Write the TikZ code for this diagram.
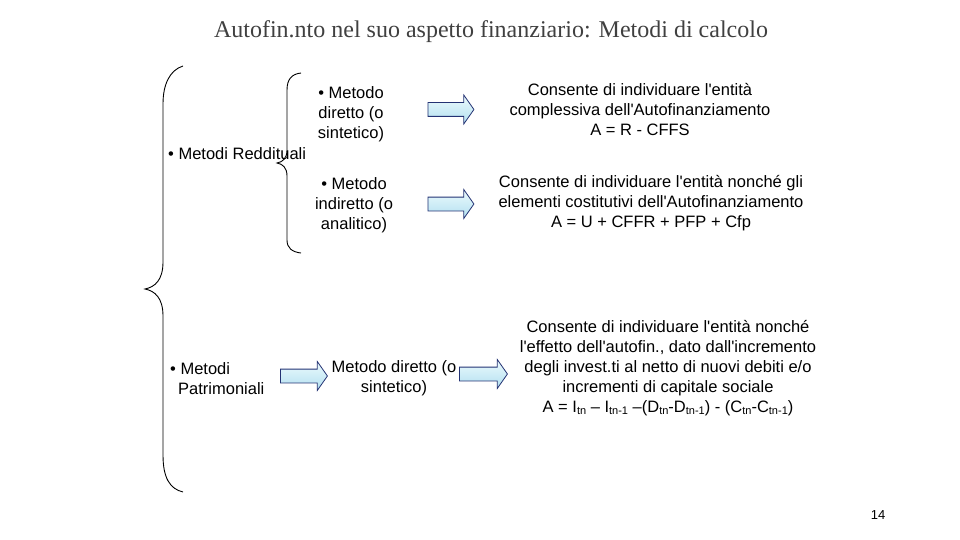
\documentclass[tikz,border=0pt]{standalone}
\usepackage{fontspec}
\setmainfont{Liberation Serif}
\newfontfamily\bodyfont{Liberation Sans}[Ligatures=TeXOff]
\usetikzlibrary{shapes.arrows}
\definecolor{arrowline}{RGB}{35,50,115}
\definecolor{arrowtop}{RGB}{236,250,253}
\definecolor{arrowbot}{RGB}{178,224,240}
\definecolor{titlegray}{RGB}{64,64,64}
\newcommand{\lowsub}[1]{\raisebox{-2.5pt}{\fontsize{11}{11}\selectfont #1}}

\begin{document}
\begin{tikzpicture}[x=1pt, y=-1pt,
   txt/.style={font=\bodyfont\fontsize{16.5}{20}\selectfont, align=center, inner sep=0pt},
   blockarrow/.style={single arrow, draw=arrowline, line width=0.8pt,
                      top color=arrowtop, bottom color=arrowbot,
                      minimum height=46pt, inner xsep=0pt, inner ysep=6.5pt,
                      single arrow head extend=7.5pt, single arrow tip angle=110},
   brace/.style={draw, line width=0.9pt}]
  \useasboundingbox (0,0) rectangle (960,540);
  \node[font=\fontsize{24}{28}\selectfont, text=titlegray] (title) at (491,32)
       {Autofin.nto nel suo aspetto finanziario: Metodi di calcolo};

  % outer brace
  \draw[brace] (183,66) .. controls (170,70) and (163,84) .. (163,104)
               -- (163,262) .. controls (163,280) and (155,287) .. (145,289)
               .. controls (155,291) and (163,298) .. (163,316)
               -- (163,455) .. controls (163,478) and (170,489) .. (183,492);
  % inner brace
  \draw[brace] (301,73) .. controls (292,74) and (287,79) .. (287,90)
               -- (287,150) .. controls (287,158) and (283,162) .. (277,163)
               .. controls (283,164) and (287,168) .. (287,176)
               -- (287,240) .. controls (287,248) and (292,252) .. (301,253);

  \node[txt, anchor=west] (redd) at (168,154) {• Metodi Reddituali};
  \node[txt] (dir) at (351,114) {• Metodo\\diretto (o\\sintetico)};
  \node[txt] (indir) at (354,205) {• Metodo\\indiretto (o\\analitico)};
  \node[txt, align=left, anchor=west] (patr) at (170,379)
       {• Metodi\\\hspace*{8pt}Patrimoniali};
  \node[txt] (patrdir) at (394,378) {Metodo diretto (o\\sintetico)};

  \node[blockarrow] (arrA) at (448.5,109.5) {};
  \node[blockarrow] (arrB) at (448.5,204) {};
  \node[blockarrow, minimum height=47pt] (arrC) at (301.5,376) {};
  \node[blockarrow, minimum height=48pt] (arrD) at (481,374) {};

  \node[txt] (consA) at (640,110)
       {Consente di individuare l'entità\\complessiva dell'Autofinanziamento\\A = R - CFFS};
  \node[txt] (consB) at (651,203)
       {Consente di individuare l'entità nonché gli\\elementi costitutivi dell'Autofinanziamento\\A = U + CFFR + PFP + Cfp};
  \node[txt] (consC) at (668,368)
       {Consente di individuare l'entità nonché\\l'effetto dell'autofin., dato dall'incremento\\degli invest.ti al netto di nuovi debiti e/o\\incrementi di capitale sociale\\A = I\lowsub{tn} – I\lowsub{tn-1} –(D\lowsub{tn}-D\lowsub{tn-1}) - (C\lowsub{tn}-C\lowsub{tn-1})};

  \node[font=\bodyfont\fontsize{13}{15}\selectfont] (page) at (878,515) {14};
\end{tikzpicture}
\end{document}
